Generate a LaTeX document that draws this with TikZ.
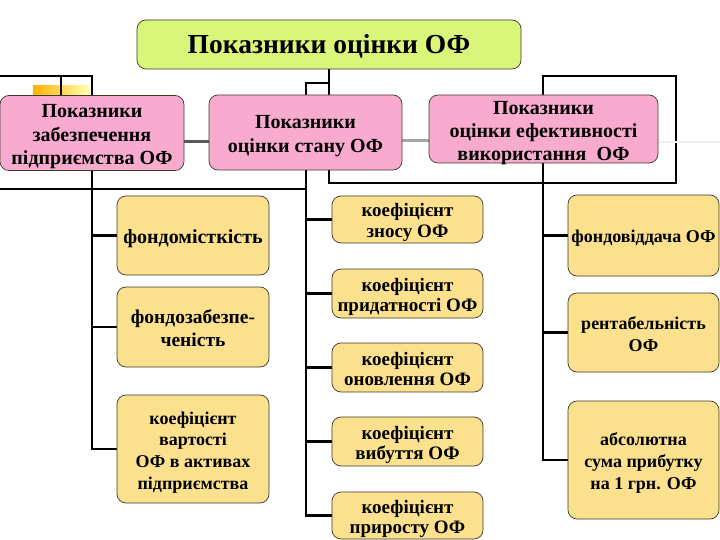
\documentclass[tikz,border=0pt]{standalone}
\usepackage{fontspec}
\setmainfont{Liberation Serif}
\usetikzlibrary{backgrounds}
\definecolor{titlefill}{HTML}{D9F67A}
\definecolor{pinkfill}{HTML}{F9ABCF}
\definecolor{yelfill}{HTML}{FBE18E}
\definecolor{boxline}{HTML}{3A3A2A}
\newcommand{\dnlines}[1]{\raisebox{0pt}[\dimexpr\height+7pt\relax][\depth]{\begin{tabular}{@{}c@{}}#1\end{tabular}}}
\newcommand{\dnlinestight}[1]{\raisebox{0pt}[\dimexpr\height-6pt\relax][\dimexpr\depth-13pt\relax]{\begin{tabular}{@{}c@{}}#1\end{tabular}}}
\begin{document}
\begin{tikzpicture}[x=1pt,y=-1pt,
  tree/.style={line width=2.4pt, black},
  boxbase/.style={draw=boxline, line width=0.7pt, rounded corners=9pt, align=center, inner sep=0pt, font=\bfseries},
  titlebox/.style={boxbase, fill=titlefill},
  pinkbox/.style={boxbase, fill=pinkfill},
  ybox/.style={boxbase, fill=yelfill},
]
\useasboundingbox (0,0) rectangle (720,540);
% title
\node[titlebox, minimum width=384pt, minimum height=49pt, font=\bfseries\fontsize{27.5}{30}\selectfont] (title) at (329,44.5) {\dnlines{Показники оцінки ОФ}};
% pink boxes
\node[pinkbox, minimum width=184pt, minimum height=75pt, font=\bfseries\fontsize{20}{23.5}\selectfont] (p1) at (92,133) {\dnlinestight{Показники\\забезпечення\\підприємства ОФ}};
\node[pinkbox, minimum width=193pt, minimum height=75pt, font=\bfseries\fontsize{20}{23.5}\selectfont] (p2) at (305.5,132.5) {\dnlines{Показники\\ оцінки стану ОФ}};
\node[pinkbox, minimum width=229pt, minimum height=68pt, font=\bfseries\fontsize{20}{23}\selectfont] (p3) at (543.5,129) {\dnlinestight{Показники\\оцінки ефективності\\використання~~ОФ}};
% left column
\node[ybox, minimum width=152pt, minimum height=79pt, font=\bfseries\fontsize{20}{22}\selectfont] (l1) at (193,235.5) {\dnlines{фондомісткість}};
\node[ybox, minimum width=152pt, minimum height=80pt, font=\bfseries\fontsize{19.5}{23}\selectfont] (l2) at (193,327) {\dnlines{фондозабезпе-\\ченість}};
\node[ybox, minimum width=152pt, minimum height=108pt, font=\bfseries\fontsize{18}{21.7}\selectfont] (l3) at (193,449) {\dnlines{коефіцієнт\\вартості\\ОФ в активах\\ підприємства}};
% middle column
\node[ybox, minimum width=151pt, minimum height=47pt, font=\bfseries\fontsize{19}{20}\selectfont] (m1) at (407.5,219.5) {\dnlines{коефіцієнт\\зносу ОФ}};
\node[ybox, minimum width=151pt, minimum height=49pt, font=\bfseries\fontsize{19}{20}\selectfont] (m2) at (407.5,293.5) {\dnlines{коефіцієнт\\придатності ОФ}};
\node[ybox, minimum width=151pt, minimum height=49pt, font=\bfseries\fontsize{19}{20}\selectfont] (m3) at (407.5,367.5) {\dnlines{коефіцієнт\\оновлення ОФ}};
\node[ybox, minimum width=151pt, minimum height=49pt, font=\bfseries\fontsize{19}{20}\selectfont] (m4) at (407.5,441.5) {\dnlines{коефіцієнт\\вибуття ОФ}};
\node[ybox, minimum width=151pt, minimum height=47pt, font=\bfseries\fontsize{19}{20}\selectfont] (m5) at (407.5,515.5) {\dnlines{коефіцієнт\\приросту ОФ}};
% right column
\node[ybox, minimum width=151pt, minimum height=81pt, font=\bfseries\fontsize{18}{20}\selectfont] (r1) at (643.5,235.5) {\dnlines{фондовіддача ОФ}};
\node[ybox, minimum width=151pt, minimum height=79pt, font=\bfseries\fontsize{18}{22}\selectfont] (r2) at (643.5,332.5) {\dnlines{рентабельність\\ОФ}};
\node[ybox, minimum width=151pt, minimum height=118pt, font=\bfseries\fontsize{18}{22}\selectfont] (r3) at (643.5,460) {\dnlines{абсолютна\\сума прибутку\\на 1 грн. ОФ}};

\begin{scope}[on background layer]
  % decorative yellow strip
  \shade[left color=orange!60!yellow, right color=yellow!30] (33,86) rectangle (90,95);
  % coordinates
  \coordinate (lA) at (0,76);
  \coordinate (lB) at (92,76);
  \coordinate (lC) at (61,76);
  \coordinate (lD) at (0,189);
  \coordinate (lE) at (306,189);
  \coordinate (mA) at (306,83);
  \coordinate (mB) at (329,83);
  \coordinate (rA) at (676,76);
  \coordinate (rB) at (543,76);
  \coordinate (rC) at (676,183);
  \coordinate (pR) at (720,142);
  % left tree
  \draw[tree] (lA) -- (lB) |- (l3.west);
  \draw[tree] (lC) -- (lC |- p1.north);
  \draw[tree] (lB |- l1.west) -- (l1.west);
  \draw[tree] (lB |- l2.west) -- (l2.west);
  \draw[tree] (lD) -- (lE);
  % middle tree
  \draw[tree] (title.south -| mB) -- (mB |- rC) -- (rC) -- (rA) -- (rB) |- (r3.west);
  \draw[tree] (rB |- r1.west) -- (r1.west);
  \draw[tree] (rB |- r2.west) -- (r2.west);
  \draw[tree] (mB) -- (mA) |- (m5.west);
  \draw[tree] (mA |- m1.west) -- (m1.west);
  \draw[tree] (mA |- m2.west) -- (m2.west);
  \draw[tree] (mA |- m3.west) -- (m3.west);
  \draw[tree] (mA |- m4.west) -- (m4.west);
  % horizontal grey links
  \draw[line width=3pt, black!65] (p1.east |- 0,142) -- (p2.west |- 0,142);
  \draw[line width=3pt, black!35] (p2.east |- 0,141) -- (p3.west |- 0,141);
  \draw[line width=1.5pt, black!6] (p3.east |- pR) -- (pR);
\end{scope}
\end{tikzpicture}
\end{document}
